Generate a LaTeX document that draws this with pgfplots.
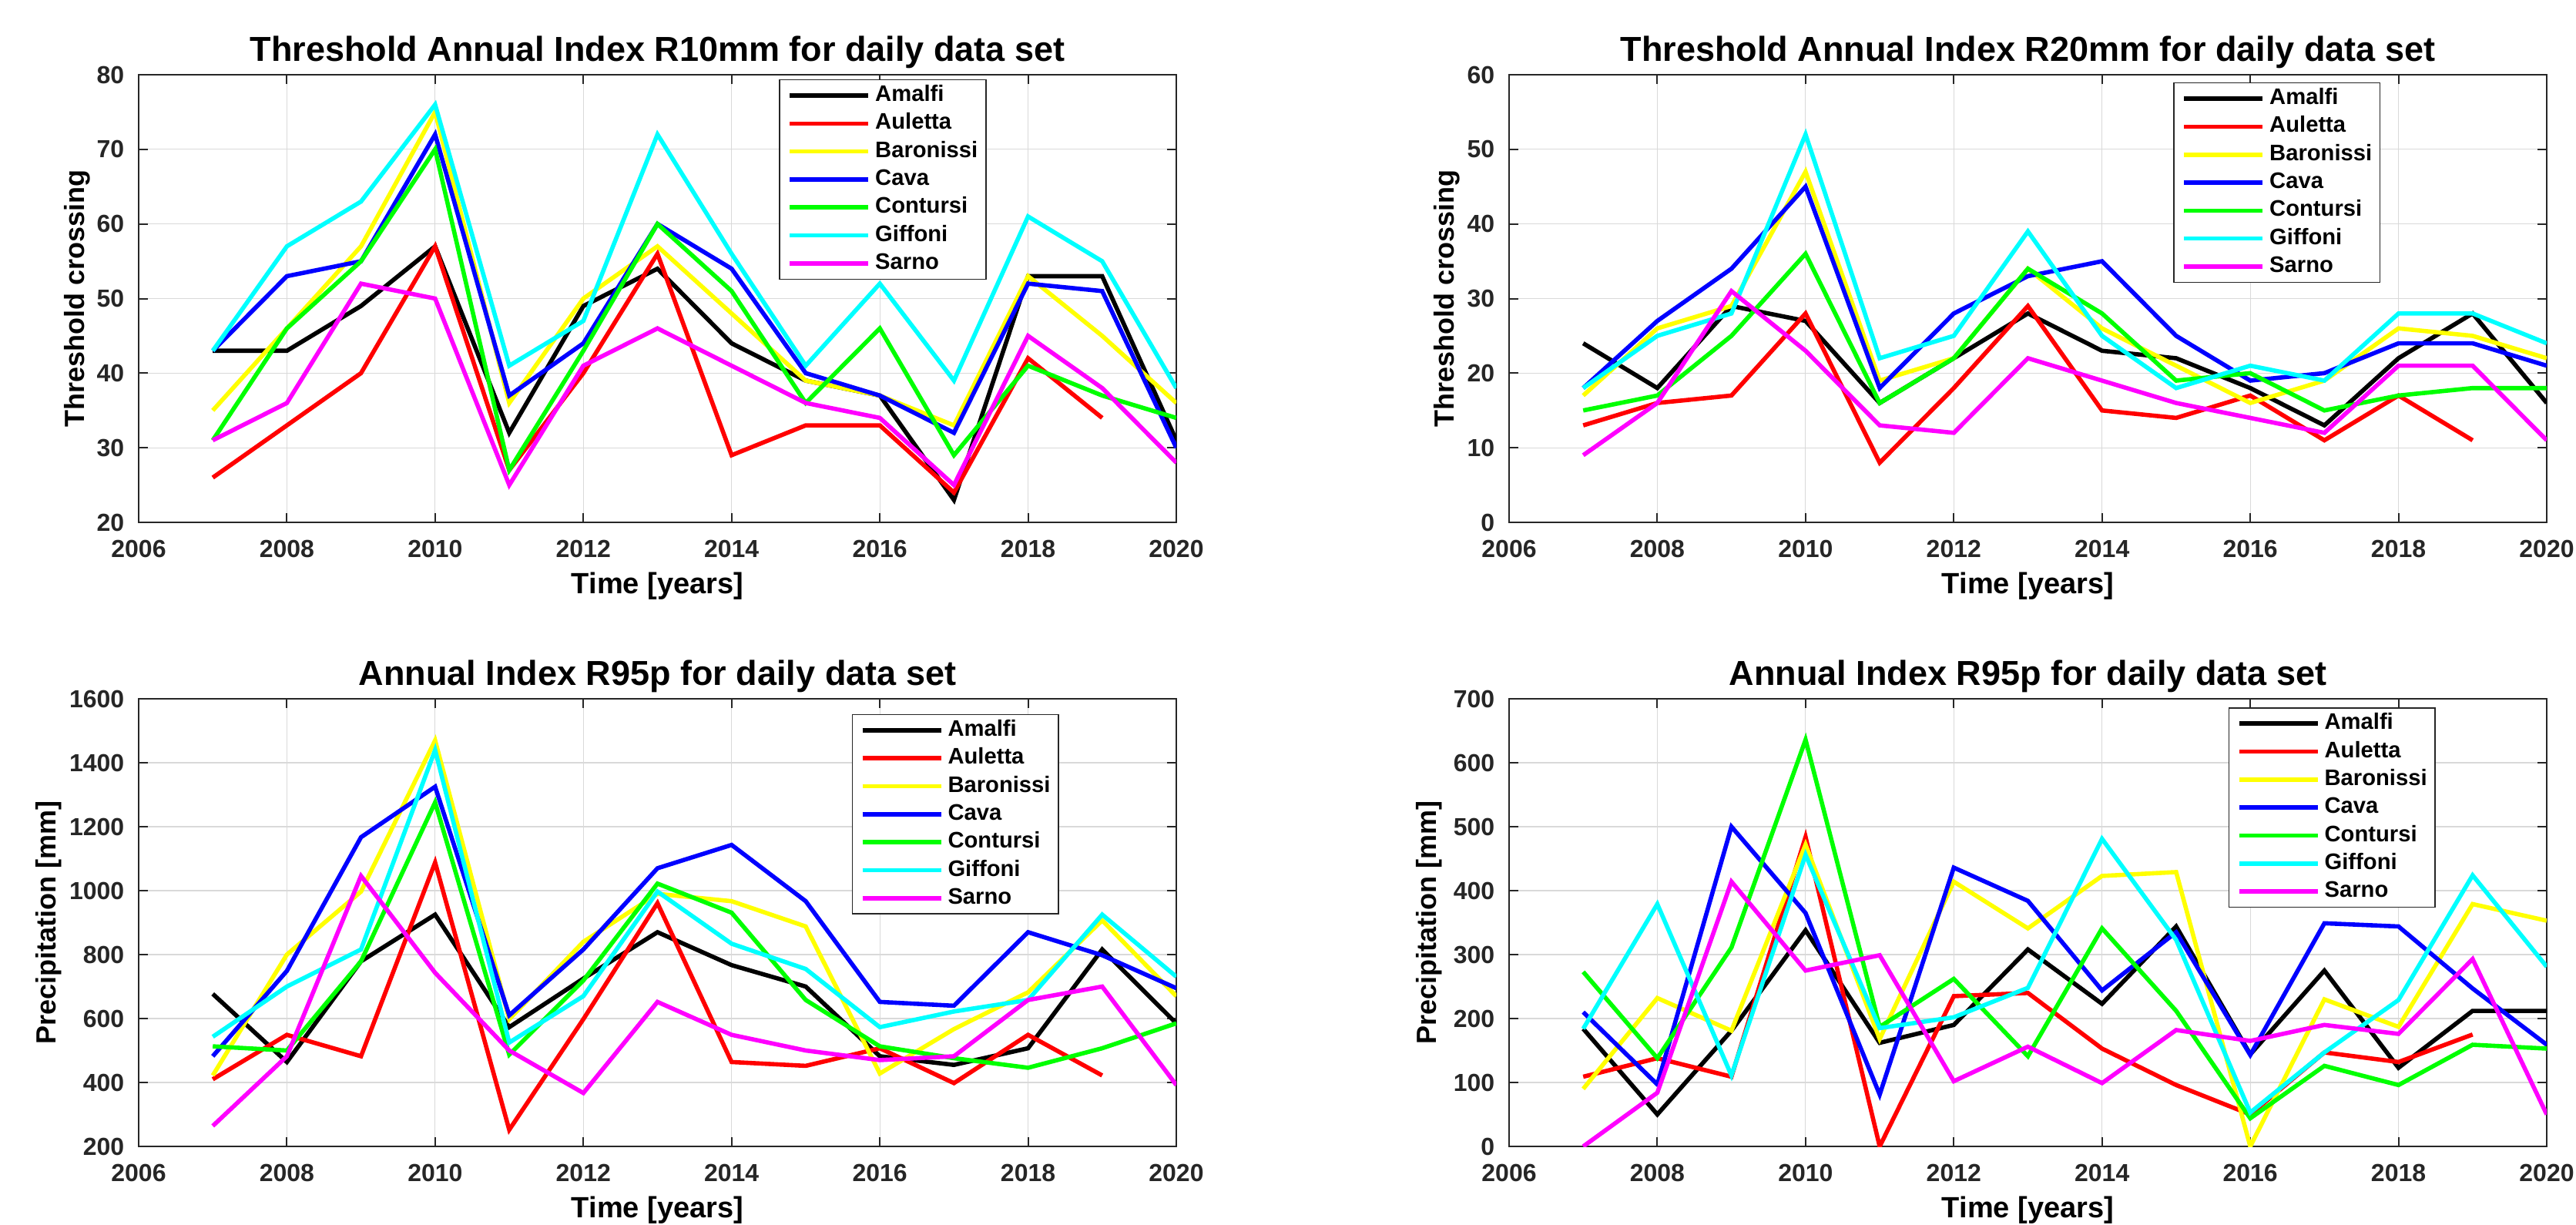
\documentclass[border=0pt]{standalone}
\usepackage{pgfplots}
\usepackage{pgfplotstable}
\pgfplotsset{compat=1.18}
\usepackage{fontspec}
\setmainfont{Liberation Sans}

\definecolor{axgray}{rgb}{0.15,0.15,0.15}
\definecolor{gridgray}{rgb}{0.85,0.85,0.85}
\definecolor{mblack}{rgb}{0,0,0}
\definecolor{mred}{rgb}{1,0,0}
\definecolor{myellow}{rgb}{1,1,0}
\definecolor{mblue}{rgb}{0,0,1}
\definecolor{mgreen}{rgb}{0,1,0}
\definecolor{mcyan}{rgb}{0,1,1}
\definecolor{mmagenta}{rgb}{1,0,1}

\pgfplotstableread{
year Am Au Ba Ca Co Gi Sa
2007 43 26 35 43 31 43 31
2008 43 33 46 53 46 57 36
2009 49 40 57 55 55 63 52
2010 57 57 75 72 70 76 50
2011 32 27 36 37 27 41 25
2012 49 40 50 44 43 47 41
2013 54 56 57 60 60 72 46
2014 44 29 48 54 51 56 41
2015 39 33 39 40 36 41 36
2016 37 33 37 37 46 52 34
2017 23 24 33 32 29 39 25
2018 53 42 53 52 41 61 45
2019 53 34 45 51 37 55 38
2020 31 nan 36 30 34 38 28
}\tabA

\pgfplotstableread{
year Am Au Ba Ca Co Gi Sa
2007 24 13 17 18 15 18 9
2008 18 16 26 27 17 25 16
2009 29 17 29 34 25 28 31
2010 27 28 47 45 36 52 23
2011 16 8 19 18 16 22 13
2012 22 18 22 28 22 25 12
2013 28 29 34 33 34 39 22
2014 23 15 26 35 28 25 19
2015 22 14 21 25 19 18 16
2016 18 17 16 19 20 21 14
2017 13 11 19 20 15 19 12
2018 22 17 26 24 17 28 21
2019 28 11 25 24 18 28 21
2020 16 nan 22 21 18 24 11
}\tabB

\pgfplotstableread{
year Am Au Ba Ca Co Gi Sa
2007 677 410 422 482 513 543 264
2008 464 549 800 749 500 700 482
2009 779 482 997 1167 779 816 1046
2010 925 1088 1470 1325 1276 1440 743
2011 573 252 598 610 487 525 500
2012 725 598 840 816 719 670 367
2013 870 961 990 1070 1022 997 652
2014 767 464 967 1143 931 834 549
2015 700 452 888 967 658 755 500
2016 482 507 428 652 513 573 470
2017 455 398 567 640 476 622 482
2018 507 549 682 870 446 658 658
2019 816 422 907 798 507 925 700
2020 585 nan 670 695 585 731 392
}\tabC

\pgfplotstableread{
year Am Au Ba Ca Co Gi Sa
2007 184 109 90 210 273 184 0
2008 50 138 232 97 138 379 84
2009 181 109 181 500 311 111 414
2010 338 484 472 365 636 456 275
2011 162 0 168 81 187 185 299
2012 190 235 414 436 262 202 102
2013 308 240 341 384 141 248 156
2014 223 153 423 244 341 481 99
2015 344 96 429 335 212 323 182
2016 144 50 0 143 44 53 165
2017 275 147 230 349 126 147 190
2018 123 132 187 344 96 229 176
2019 212 175 379 247 159 424 293
2020 212 nan 353 159 153 281 50
}\tabD

\pgfplotsset{
  panel/.style={
    scale only axis, width=336.75pt, height=145.25pt, anchor=south west,
    xmin=2006, xmax=2020, xtick={2006,2008,...,2020},
    grid=major, major grid style={line width=0.3pt, draw=gridgray},
    axis line style={line width=0.5pt, draw=axgray},
    every tick/.style={axgray, line width=0.5pt}, major tick length=3pt,
    tick label style={font=\bfseries\fontsize{8}{9.6}\selectfont, text=axgray},
    /pgf/number format/assume math mode=true,
    /pgf/number format/1000 sep={},
    xticklabel style={anchor=base, yshift=-11.25pt, inner sep=0pt},
    yticklabel style={anchor=east, xshift=-4.5pt, inner sep=0pt},
    title style={at={(0.5,1)}, anchor=base, yshift=-1.5pt, inner sep=0pt,
      font=\bfseries\fontsize{11.25}{13}\selectfont},
    xlabel style={at={(0.5,0)}, anchor=base, yshift=-23pt, inner sep=0pt,
      font=\bfseries\fontsize{9.5}{11}\selectfont},
    xlabel={Time [years]},
    legend cell align=left,
    legend image code/.code={\draw[##1, line width=1.4pt] (0pt,0pt) -- (25.5pt,0pt);},
    legend style={anchor=north east, draw=axgray, line width=0.4pt,
      font=\bfseries\fontsize{7.3}{8}\selectfont,
      inner xsep=2.6pt, inner ysep=1.7pt, row sep=2.28pt, column sep=1.5pt,
      nodes={inner sep=0pt, text height=5.3pt, text depth=1.5pt}},
    every axis plot/.append style={line width=1.4pt},
  },
  ylab/.style={ylabel style={at={([xshift=-#1]axis description cs:0,0.5)},
      anchor=base, inner sep=0pt, font=\bfseries\fontsize{9}{11}\selectfont}},
}

\newcommand{\seven}[1]{%
  \addplot[mblack] table[x=year,y=Am]{#1};
  \addplot[mred] table[x=year,y=Au]{#1};
  \addplot[myellow] table[x=year,y=Ba]{#1};
  \addplot[mblue] table[x=year,y=Ca]{#1};
  \addplot[mgreen] table[x=year,y=Co]{#1};
  \addplot[mcyan] table[x=year,y=Gi]{#1};
  \addplot[mmagenta] table[x=year,y=Sa]{#1};
  \legend{Amalfi,Auletta,Baronissi,Cava,Contursi,Giffoni,Sarno}%
}

\begin{document}
\begin{tikzpicture}
\path[use as bounding box] (0pt,0pt) rectangle (836pt,397.25pt);

\begin{axis}[panel, at={(45pt,227.75pt)},
  ymin=20, ymax=80, ytick={20,30,...,80},
  title={Threshold Annual Index R10mm for daily data set},
  ylabel={Threshold crossing}, ylab=17.5pt,
  legend style={at={(0.817,0.99)}}]
\seven{\tabA}
\end{axis}

\begin{axis}[panel, at={(489.75pt,227.75pt)},
  ymin=0, ymax=60, ytick={0,10,...,60},
  title={Threshold Annual Index R20mm for daily data set},
  ylabel={Threshold crossing}, ylab=18pt,
  legend style={at={(0.840,0.983)}}]
\seven{\tabB}
\end{axis}

\begin{axis}[panel, at={(45pt,25.25pt)},
  ymin=200, ymax=1600, ytick={200,400,...,1600},
  title={Annual Index R95p for daily data set},
  ylabel={Precipitation [mm]}, ylab=27pt,
  legend style={at={(0.887,0.966)}}]
\seven{\tabC}
\end{axis}

\begin{axis}[panel, at={(489.75pt,25.25pt)},
  ymin=0, ymax=700, ytick={0,100,...,700},
  title={Annual Index R95p for daily data set},
  ylabel={Precipitation [mm]}, ylab=23.6pt,
  legend style={at={(0.893,0.981)}}]
\seven{\tabD}
\end{axis}
\end{tikzpicture}
\end{document}
